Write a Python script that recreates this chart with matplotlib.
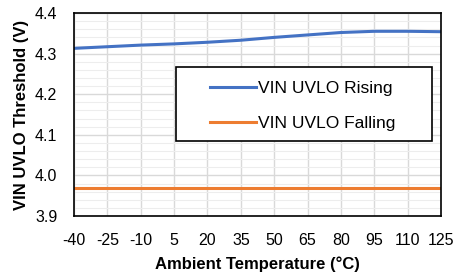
import matplotlib.pyplot as plt
from matplotlib.patches import Rectangle
from matplotlib.ticker import MultipleLocator

plt.rcParams['font.family'] = ['Liberation Sans', 'DejaVu Sans']

# Data
temps = [-40, -25, -10, 5, 20, 35, 50, 65, 80, 95, 110, 125]
uvlo_rising = [4.313, 4.317, 4.321, 4.324, 4.328, 4.333, 4.340, 4.346, 4.352, 4.355, 4.355, 4.354]
uvlo_falling = [3.970, 3.970, 3.970, 3.970, 3.970, 3.970, 3.970, 3.970, 3.970, 3.970, 3.970, 3.970]

fig = plt.figure(figsize=(4.57, 2.77), dpi=100)
ax = fig.add_axes([0.162, 0.220, 0.803, 0.733])

ax.plot(temps, uvlo_rising, color='#4472C4', linewidth=2.2, label='VIN UVLO Rising')
ax.plot(temps, uvlo_falling, color='#ED7D31', linewidth=2.2, label='VIN UVLO Falling')

ax.set_xlim(-40, 125)
ax.set_ylim(3.9, 4.4)
ax.set_xticks(temps)
ax.set_xticklabels([str(t) for t in temps])
ax.yaxis.set_major_locator(MultipleLocator(0.1))
ax.yaxis.set_minor_locator(MultipleLocator(0.02))
ax.yaxis.set_major_formatter(plt.FormatStrFormatter('%.1f'))

# Gridlines like the Excel original
ax.grid(True, which='major', color='#D9D9D9', linewidth=1.0)
ax.grid(True, which='minor', axis='y', color='#EDEDED', linewidth=0.8)
ax.set_axisbelow(True)

ax.tick_params(which='both', length=0, labelsize=11.5, colors='black')
ax.tick_params(axis='y', pad=12)
ax.tick_params(axis='x', pad=12)
for spine in ax.spines.values():
    spine.set_color('black')
    spine.set_linewidth(1.2)

ax.set_xlabel('Ambient Temperature (°C)', fontsize=12, fontweight='bold', labelpad=6)
ax.set_ylabel('VIN UVLO Threshold (V)', fontsize=12, fontweight='bold', labelpad=4)

# legend box drawn by hand so the entries sit where they do in the original
ax.add_patch(Rectangle((0.277, 0.369), 0.698, 0.365, transform=ax.transAxes,
                       facecolor='white', edgecolor='black', linewidth=1.2, zorder=5))
leg = ax.legend(loc='upper left', bbox_to_anchor=(0.37, 0.665), frameon=False,
                fontsize=12.5, borderpad=0, borderaxespad=0, labelspacing=1.15,
                handlelength=2.65, handletextpad=0.15)
leg.set_zorder(6)

fig.savefig('out.png', dpi=100)
